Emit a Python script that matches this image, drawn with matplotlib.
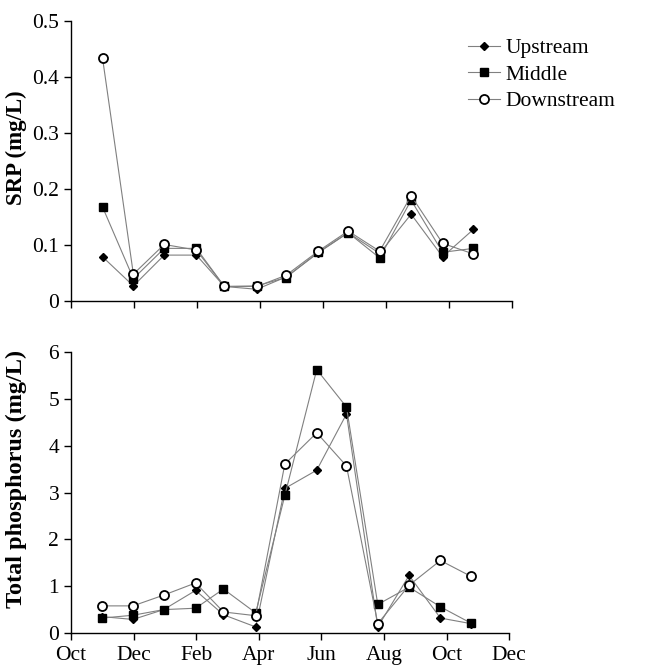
import matplotlib.pyplot as plt

plt.rcParams['font.family'] = ['Liberation Serif', 'DejaVu Serif']

# sampling dates, in months after 1 Oct of the first year
months = [1.0, 1.98, 2.96, 3.98, 4.87, 5.9, 6.83, 7.85, 8.8, 9.8, 10.8, 11.8, 12.78]
tick_labels = ['Oct', 'Dec', 'Feb', 'Apr', 'Jun', 'Aug', 'Oct', 'Dec']

srp_up = [0.079, 0.027, 0.082, 0.082, 0.026, 0.021, 0.043, 0.086, 0.122, 0.085, 0.155, 0.079, 0.128]
srp_mid = [0.168, 0.040, 0.094, 0.094, 0.026, 0.027, 0.042, 0.087, 0.122, 0.077, 0.180, 0.087, 0.094]
srp_down = [0.434, 0.048, 0.101, 0.091, 0.026, 0.026, 0.046, 0.089, 0.125, 0.089, 0.188, 0.103, 0.084]

tp_up = [0.35, 0.29, 0.50, 0.91, 0.39, 0.13, 3.09, 3.48, 4.68, 0.13, 1.23, 0.32, 0.20]
tp_mid = [0.32, 0.38, 0.50, 0.53, 0.94, 0.43, 2.94, 5.63, 4.83, 0.61, 0.98, 0.56, 0.21]
tp_down = [0.58, 0.58, 0.81, 1.07, 0.45, 0.37, 3.61, 4.28, 3.57, 0.20, 1.02, 1.55, 1.21]

line_kw = dict(color='#808080', lw=0.8)

fig = plt.figure(figsize=(6.6, 6.7), dpi=100)
ax1 = fig.add_axes([0.1076, 0.5507, 0.668, 0.418])
ax2 = fig.add_axes([0.1076, 0.0552, 0.664, 0.419])

def draw(ax, up, mid, down):
    ax.plot(months, up, marker='D', ms=4, mfc='black', mec='black', label='Upstream', **line_kw)
    ax.plot(months, mid, marker='s', ms=6, mfc='black', mec='black', label='Middle', **line_kw)
    ax.plot(months, down, marker='o', ms=6.5, mfc='white', mec='black', mew=1.3, label='Downstream', **line_kw)
    ax.set_xlim(0, 14)
    ax.set_xticks(range(0, 15, 2))
    for s in ['top', 'right']:
        ax.spines[s].set_visible(False)
    for s in ['left', 'bottom']:
        ax.spines[s].set_linewidth(1.0)
    ax.tick_params(direction='out', length=5, width=1.0, labelsize=15.5)

draw(ax1, srp_up, srp_mid, srp_down)
ax1.set_ylim(0, 0.5)
ax1.set_yticks([0, 0.1, 0.2, 0.3, 0.4, 0.5])
ax1.set_yticklabels(['0', '0.1', '0.2', '0.3', '0.4', '0.5'])
ax1.set_xticklabels([])
ax1.set_ylabel('SRP (mg/L)', fontsize=16.5, fontweight='bold')
ax1.yaxis.set_label_coords(-0.10, 0.546)

draw(ax2, tp_up, tp_mid, tp_down)
ax2.set_ylim(0, 6)
ax2.set_yticks(range(0, 7))
ax2.set_xticklabels(tick_labels)
ax2.tick_params(axis='x', pad=4.5)
ax2.set_ylabel('Total phosphorus (mg/L)', fontsize=17.5, fontweight='bold')
ax2.yaxis.set_label_coords(-0.10, 0.55)

ax1.legend(loc='upper left', bbox_to_anchor=(468 / 660, 1 - 38 / 670), bbox_transform=fig.transFigure,
           frameon=False, fontsize=15.5, handlelength=1.5, handletextpad=0.25, labelspacing=0.3,
           borderpad=0, borderaxespad=0)

fig.savefig('out.png', dpi=100)
